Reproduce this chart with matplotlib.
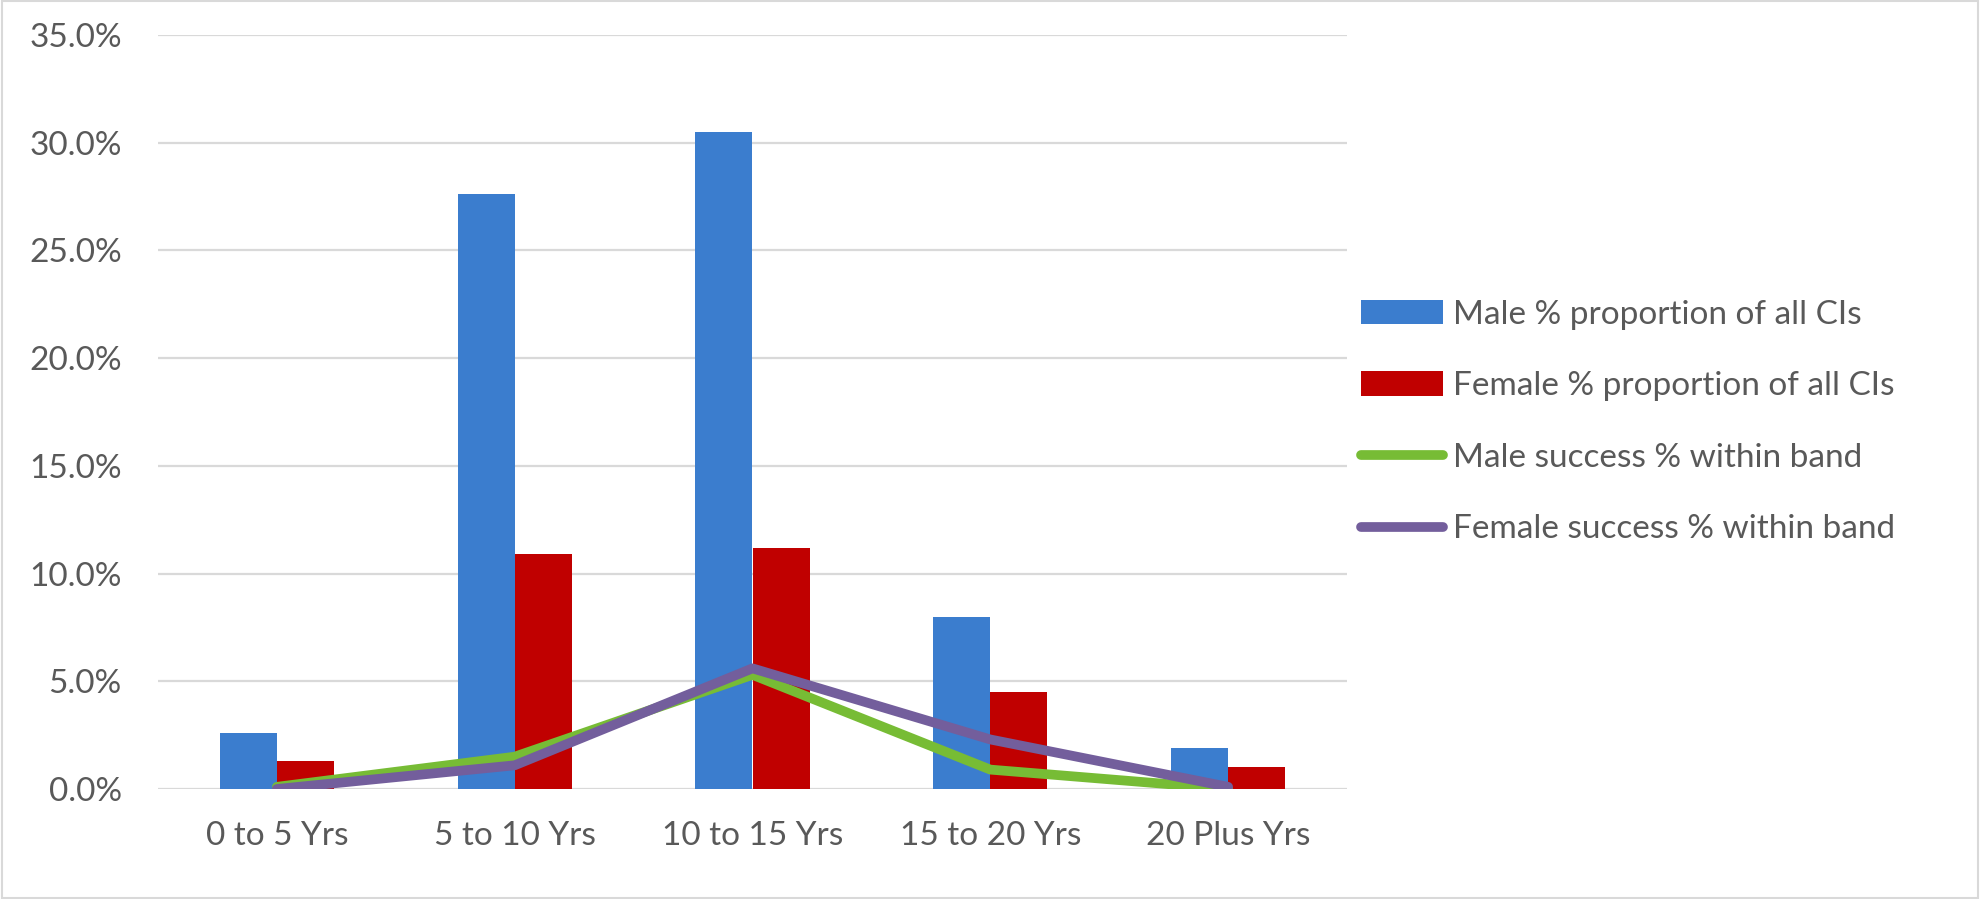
import matplotlib
matplotlib.use('Agg')
import matplotlib.pyplot as plt
import numpy as np
from matplotlib.patches import Rectangle

plt.rcParams['font.family'] = ['Lato', 'DejaVu Sans']

categories = ['0 to 5 Yrs', '5 to 10 Yrs', '10 to 15 Yrs', '15 to 20 Yrs', '20 Plus Yrs']
male_prop = [2.6, 27.6, 30.5, 8.0, 1.9]
female_prop = [1.3, 10.9, 11.2, 4.5, 1.0]
male_success = [0.1, 1.5, 5.3, 0.9, 0.0]
female_success = [0.0, 1.1, 5.6, 2.3, 0.1]

text_col = '#595959'
fs = 24

fig = plt.figure(figsize=(19.8, 8.99), dpi=100)
ax = fig.add_axes([158 / 1980, 1 - 789 / 899, (1347 - 158) / 1980, (789 - 35) / 899])

x = np.arange(len(categories))
w = 0.24
b1 = ax.bar(x - w / 2, male_prop, w, color='#3B7DCE', label='Male % proportion of all CIs', zorder=2)
b2 = ax.bar(x + w / 2, female_prop, w, color='#C00000', label='Female % proportion of all CIs', zorder=2)
l1, = ax.plot(x, male_success, color='#77BC35', lw=7, solid_capstyle='round',
              label='Male success % within band', zorder=3)
l2, = ax.plot(x, female_success, color='#735E9C', lw=7, solid_capstyle='round',
              label='Female success % within band', zorder=4)

ax.set_xlim(-0.5, len(categories) - 0.5)
ax.set_ylim(0, 35)
ax.set_yticks(np.arange(0, 36, 5))
ax.set_yticklabels([f'{v:.1f}%' for v in np.arange(0, 36, 5)])
ax.set_xticks(x)
ax.set_xticklabels(categories)
ax.yaxis.grid(True, color='#D9D9D9', lw=1.6, zorder=0)
ax.set_axisbelow(True)
for s in ax.spines.values():
    s.set_visible(False)
ax.tick_params(axis='both', length=0, labelsize=fs, labelcolor=text_col)
ax.tick_params(axis='y', pad=26)
ax.tick_params(axis='x', pad=23)

ax.legend([b1, b2, l1, l2], [h.get_label() for h in (b1, b2, l1, l2)],
          loc='center left', bbox_to_anchor=(1361 / 1980, 1 - 422 / 899),
          bbox_transform=fig.transFigure, frameon=False, fontsize=fs,
          labelcolor=text_col, borderpad=0, borderaxespad=0,
          handlelength=2.45, handleheight=0.75, handletextpad=0.3, labelspacing=1.25)

fig.patches.append(Rectangle((0.001, 0.001), 0.998, 0.998, transform=fig.transFigure,
                             fill=False, edgecolor='#D9D9D9', lw=1.5))

fig.savefig('out.png', dpi=100)
